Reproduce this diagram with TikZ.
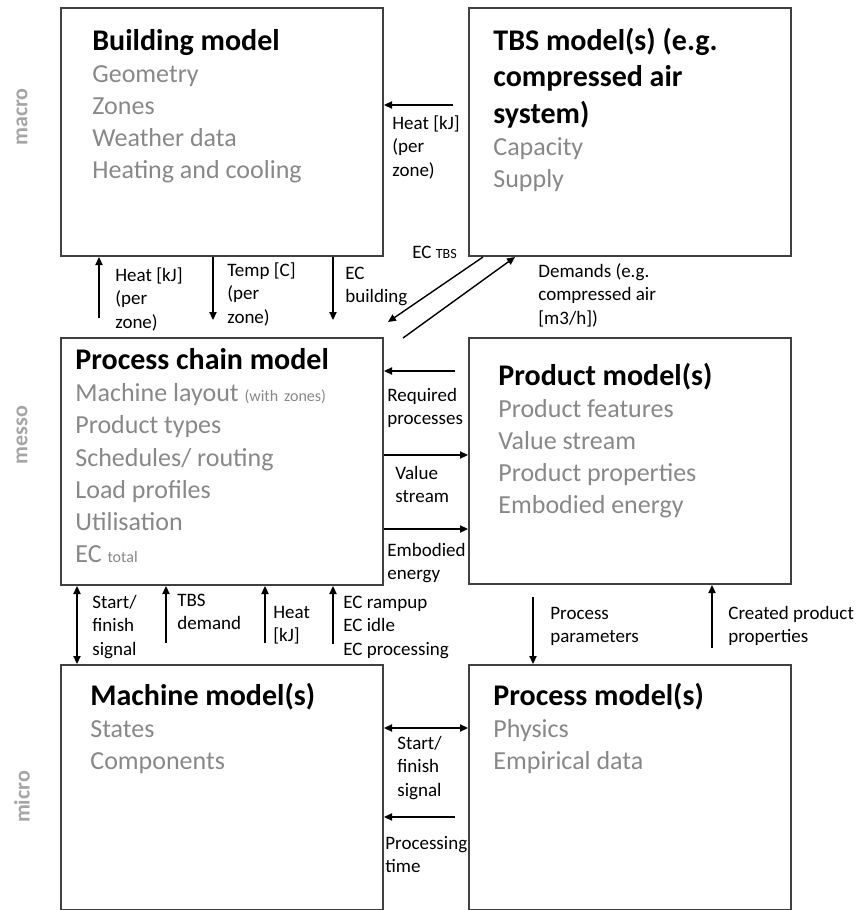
\documentclass[tikz,border=0pt]{standalone}
\usepackage{fontspec}
\setmainfont{Carlito}
\usetikzlibrary{arrows.meta,calc}
\definecolor{itemgray}{HTML}{888888}
\definecolor{levelgray}{HTML}{A5A5A5}
\definecolor{framegray}{HTML}{404040}
% fonts; word spaces are kept rigid so that short lines are not stretched
\newcommand\boxtitle{\fontsize{15}{18.25}\selectfont\bfseries\spaceskip=0.226em\relax}
\newcommand\boxitem{\fontsize{13}{16.1}\selectfont\spaceskip=0.226em\relax\color{itemgray}}
\newcommand\arrowlabel{\fontsize{9.5}{11.75}\selectfont}
\newcommand\subpart{\fontsize{8}{9}\selectfont}
\newcommand\labelsub{\fontsize{7}{8}\selectfont}
% stacked label lines, baseline on the first line
\newcommand\lines[1]{\begin{tabular}[t]{@{}l@{}}#1\end{tabular}}
\begin{document}
\begin{tikzpicture}[x=0.5pt,y=-0.5pt,
  modelbox/.style={draw=framegray, line width=1pt, anchor=north west,
    minimum width=161pt, inner sep=0},
  boxtext/.style={anchor=base west, inner sep=0, text width=150pt, align=left},
  lbltext/.style={anchor=base west, inner sep=0, font=\arrowlabel},
  flow/.style={-{Triangle[length=4pt,width=3.6pt]}, line width=0.7pt},
  dflow/.style={{Triangle[length=4pt,width=3.6pt]}-{Triangle[length=4pt,width=3.6pt]},
    line width=0.7pt},
  level/.style={rotate=90, font=\fontsize{11}{13}\selectfont\bfseries, text=levelgray}]

\useasboundingbox (0,0) rectangle (856,910);

% level captions
\node[level] (lvmacro) at (22,117) {macro};
\node[level] (lvmesso) at (22,435) {messo};
\node[level] (lvmicro) at (22,797) {micro};

% model boxes
\node[modelbox, minimum height=124pt] (bld) at (60,7) {};
\node[modelbox, minimum height=124pt] (tbs) at (468,7) {};
\node[modelbox, minimum height=123.5pt] (pc) at (60,337) {};
\node[modelbox, minimum height=123pt] (prod) at (468,337) {};
\node[modelbox, minimum height=122.5pt] (mach) at (60,664) {};
\node[modelbox, minimum height=122.5pt] (proc) at (468,664) {};

% box contents
\node[boxtext] (tbld) at (92,50) {{\boxtitle Building model\par}\boxitem
  Geometry\par Zones\par Weather data\par Heating and cooling\par};
\node[boxtext] (ttbs) at (493,50) {{\boxtitle TBS model(s) (e.g.\par compressed air\par system)\par}\boxitem
  Capacity\par Supply\par};
\node[boxtext] (tpc) at (75,369.5) {{\boxtitle Process chain model\par}\boxitem
  Machine layout {\subpart (with zones)}\par Product types\par Schedules/ routing\par
  Load profiles\par Utilisation\par EC {\subpart total}\par};
\node[boxtext] (tprod) at (498,385) {{\boxtitle Product model(s)\par}\boxitem
  Product features\par Value stream\par Product properties\par Embodied energy\par};
\node[boxtext] (tmach) at (90,705) {{\boxtitle Machine model(s)\par}\boxitem
  States\par Components\par};
\node[boxtext] (tproc) at (493,705) {{\boxtitle Process model(s)\par}\boxitem
  Physics\par Empirical data\par};

% free ends of connectors
\coordinate (cheatzone) at (453,105);
\coordinate (cheatup) at (99,318);
\coordinate (ctemp) at (213,320);
\coordinate (cecb) at (333,320);
\coordinate (cectbs) at (388,322);
\coordinate (cdem) at (403,338);
\coordinate (creq) at (455,371);
\coordinate (cval) at (0,455);
\coordinate (cemb) at (0,529);
\coordinate (csf1) at (77,0);
\coordinate (ctbsd) at (166,643);
\coordinate (cheatb) at (265,643);
\coordinate (cec) at (333,644);
\coordinate (cpp) at (533,597);
\coordinate (ccpp) at (712,648);
\coordinate (csf2) at (0,728);
\coordinate (cpt) at (455,817);

% connectors
\draw[flow] (cheatzone) -- (cheatzone -| bld.east);
\draw[flow] (cheatup) -- (cheatup |- bld.south);
\draw[flow] (ctemp |- bld.south) -- (ctemp);
\draw[flow] (cecb |- bld.south) -- (cecb);
\draw[flow] ($(tbs.south west)+(15,0)$) -- (cectbs);
\draw[flow] (cdem) -- ($(tbs.south west)+(47,0)$);
\draw[flow] (creq) -- (creq -| pc.east);
\draw[flow] (cval -| pc.east) -- (cval -| prod.west);
\draw[flow] (cemb -| pc.east) -- (cemb -| prod.west);
\draw[dflow] (csf1 |- pc.south) -- (csf1 |- mach.north);
\draw[flow] (ctbsd) -- (ctbsd |- pc.south);
\draw[flow] (cheatb) -- (cheatb |- pc.south);
\draw[flow] (cec) -- (cec |- pc.south);
\draw[flow] (cpp) -- (cpp |- proc.north);
\draw[flow] (ccpp) -- (ccpp |- prod.south);
\draw[dflow] (csf2 -| mach.east) -- (csf2 -| proc.west);
\draw[flow] (cpt) -- (cpt -| mach.east);

% connector labels
\node[lbltext] (lheatzone) at (392,129) {\lines{Heat [kJ]\\(per\\zone)}};
\node[lbltext] (lheatup) at (115,281) {\lines{Heat [kJ]\\(per\\zone)}};
\node[lbltext] (ltemp) at (227,276) {\lines{Temp [C]\\(per\\zone)}};
\node[lbltext] (lecb) at (345,279) {\lines{EC\\building}};
\node[lbltext] (lectbs) at (412,258) {EC {\labelsub TBS}};
\node[lbltext] (ldem) at (538,277) {\lines{Demands (e.g.\\compressed air\\[0pt] [m3/h])}};
\node[lbltext] (lreq) at (387,401) {\lines{Required\\processes}};
\node[lbltext] (lval) at (395,479) {\lines{Value\\stream}};
\node[lbltext] (lemb) at (387,556) {\lines{Embodied\\energy}};
\node[lbltext] (lsf1) at (92,608) {\lines{Start/\\finish\\signal}};
\node[lbltext] (ltbsd) at (177,606) {\lines{TBS\\demand}};
\node[lbltext] (lheatb) at (273,618) {\lines{Heat\\[0pt] [kJ]}};
\node[lbltext] (lec) at (343,608) {\lines{EC rampup\\EC idle\\EC processing}};
\node[lbltext] (lpp) at (550,619) {\lines{Process\\parameters}};
\node[lbltext] (lcpp) at (728,619) {\lines{Created product\\properties}};
\node[lbltext] (lsf2) at (397,749) {\lines{Start/\\finish\\signal}};
\node[lbltext] (lpt) at (385,849) {\lines{Processing\\time}};
\end{tikzpicture}
\end{document}
